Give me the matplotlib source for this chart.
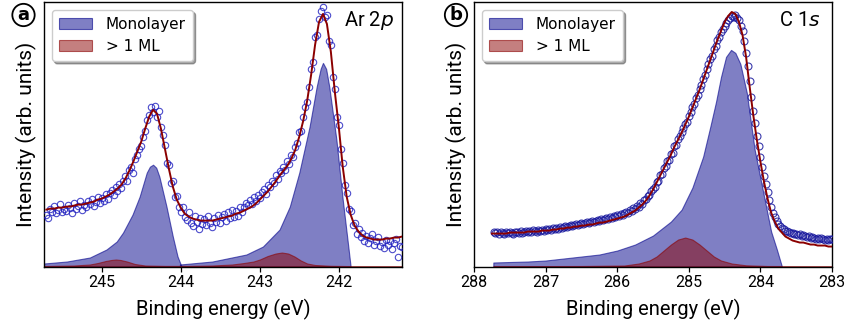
import numpy as np
import matplotlib
matplotlib.use("Agg")
import matplotlib.pyplot as plt

# ---------------- data (heights in arbitrary units) -------------
# Panel a: Ar 2p
A_DATA_START, A_DATA_STEP = 245.70, 0.025
A_DATA = [52, 49, 58, 55, 61, 54, 57, 63, 55, 58,
          56, 62, 59, 54, 64, 58, 61, 66, 57, 62,
          60, 66, 63, 68, 61, 65, 70, 64, 69, 66,
          73, 68, 74, 77, 72, 80, 76, 83, 79, 86,
          91, 86, 97, 100, 94, 108, 112, 118, 121, 130,
          136, 147, 152, 160, 155, 161, 150, 156, 140, 132,
          122, 104, 102, 84, 86, 70, 71, 60, 55, 60,
          50, 47, 55, 44, 41, 51, 45, 38, 49, 43,
          48, 42, 51, 44, 40, 49, 45, 52, 44, 50,
          53, 46, 55, 49, 57, 50, 56, 51, 60, 55,
          60, 64, 62, 67, 63, 70, 66, 72, 69, 75,
          78, 73, 82, 80, 86, 84, 92, 88, 96, 94,
          100, 97, 106, 103, 112, 110, 120, 124, 135, 136,
          150, 160, 165, 180, 198, 205, 230, 232, 248, 256,
          260, 250, 252, 226, 222, 190, 178, 150, 142, 118,
          104, 82, 74, 58, 56, 42, 44, 33, 38, 30,
          34, 26, 31, 24, 29, 33, 22, 26, 30, 21,
          25, 19, 27, 22, 26, 18, 24, 28, 10, 21,
          20]
A_FIT_START, A_FIT_STEP = 245.70, 0.05
A_FIT = [57, 58, 58, 59, 59, 60, 60, 61, 62, 62,
         63, 64, 65, 67, 68, 70, 72, 75, 78, 82,
         88, 96, 105, 115, 125, 138, 150, 157, 153, 138,
         118, 98, 80, 67, 59, 53, 50, 48, 47, 46,
         46, 46, 46, 47, 48, 49, 50, 51, 53, 54,
         56, 58, 60, 63, 67, 71, 75, 80, 85, 91,
         96, 101, 108, 117, 130, 146, 166, 192, 222, 245,
         253, 243, 215, 175, 140, 100, 70, 52, 41, 35,
         31, 29, 28, 27, 27, 27, 28, 28, 29, 29,
         30]
A_ML1_E = [245.73, 245.44, 245.15, 244.94, 244.81, 244.73, 244.61, 244.52, 244.43,
           244.39, 244.35, 244.31, 244.27, 244.18, 244.10, 244.04, 243.99]
A_ML1 = [3, 5, 9, 17, 25, 34, 52, 70, 94, 100, 102, 99, 90, 60, 30, 10, 0]
A_ML2_E = [244.01, 243.60, 243.17, 242.96, 242.75, 242.62, 242.50, 242.37, 242.28,
           242.23, 242.20, 242.16, 242.12, 242.03, 241.95, 241.89, 241.85]
A_ML2 = [2, 5, 12, 20, 37, 60, 94, 140, 180, 198, 204, 198, 180, 127, 67, 27, 0]
A_MULTI_E = [245.73, 245.35, 245.15, 245.05, 244.95, 244.88, 244.82, 244.76, 244.68,
             244.58, 244.45, 244.2, 243.9, 243.6, 243.35, 243.2, 243.08, 243.0, 242.9,
             242.8, 242.72, 242.64, 242.56, 242.48, 242.40, 242.3, 242.1, 241.85, 241.2]
A_MULTI = [0.5, 1, 2, 3.5, 5.5, 6.5, 7, 6.5, 5, 2.5, 1, 0.6, 0.6, 1, 2, 3.5, 5, 7,
           10.5, 13, 14, 13, 10, 6, 3, 1.5, 0.7, 0.4, 0.3]
A_XTICKS = [245, 244, 243, 242]
A_XLIM = (245.73, 241.20)

# Panel b: C 1s
B_DATA_START, B_DATA_STEP = 287.725, 0.025
B_DATA = [35, 34, 35, 33, 35, 34, 33, 35, 34, 35,
          34, 33, 35, 35, 34, 36, 34, 35, 36, 35,
          36, 35, 37, 36, 35, 37, 36, 37, 36, 38,
          37, 38, 37, 39, 38, 39, 38, 40, 39, 40,
          41, 40, 41, 42, 41, 42, 43, 42, 43, 44,
          43, 44, 45, 44, 45, 46, 45, 46, 47, 46,
          48, 47, 48, 49, 48, 50, 49, 51, 50, 52,
          51, 53, 52, 54, 55, 54, 57, 56, 59, 58,
          61, 60, 64, 63, 67, 68, 71, 72, 76, 78,
          80, 85, 86, 92, 93, 99, 101, 106, 107, 113,
          114, 121, 122, 128, 131, 135, 139, 143, 145, 151,
          155, 160, 163, 169, 172, 178, 182, 188, 192, 198,
          203, 208, 211, 218, 221, 227, 230, 235, 238, 241,
          244, 247, 249, 251, 250, 252, 249, 247, 241, 236,
          226, 214, 201, 186, 170, 156, 144, 131, 121, 110,
          100, 91, 83, 75, 67, 60, 54, 50, 46, 43,
          41, 39, 38, 36, 36, 35, 34, 34, 33, 33,
          32, 33, 31, 32, 31, 30, 31, 29, 30, 29,
          28, 29, 28, 29, 28, 27, 28, 27, 28, 28]
B_FIT_START, B_FIT_STEP = 287.75, 0.05
B_FIT = [33, 33, 33, 33, 33, 34, 34, 34, 34, 34,
         35, 35, 35, 35, 36, 36, 36, 37, 37, 38,
         38, 39, 39, 40, 40, 41, 41, 42, 42, 43,
         44, 44, 45, 46, 47, 48, 49, 50, 52, 54,
         56, 59, 62, 66, 71, 77, 84, 91, 98, 105,
         112, 120, 127, 134, 142, 150, 159, 168, 177, 187,
         197, 207, 217, 227, 236, 245, 251, 255, 253, 245,
         232, 210, 180, 152, 127, 105, 85, 68, 54, 45,
         38, 34, 30, 28, 26, 25, 24, 24, 23, 22,
         22, 21, 21, 21, 20, 20]
B_ML_E = [287.73, 287.50, 287.25, 287.00, 286.75, 286.50, 286.25, 286.00, 285.75,
          285.50, 285.25, 285.10, 284.95, 284.80, 284.70, 284.62, 284.55, 284.48,
          284.41, 284.35, 284.28, 284.19, 284.08, 283.94, 283.85, 283.77, 283.70]
B_ML = [4, 4.5, 5, 6, 8, 10, 12, 16, 22, 31, 45, 57, 79, 110, 140, 165, 190, 210,
        217, 214, 203, 174, 117, 67, 35, 17, 0]
B_MULTI_E = [287.73, 286.5, 285.9, 285.7, 285.55, 285.45, 285.35, 285.25, 285.15,
             285.05, 284.95, 284.85, 284.75, 284.65, 284.55, 284.4, 284.2, 283.9, 283.0]
B_MULTI = [0.3, 0.5, 1, 3, 6, 10, 16, 22, 27, 29, 27, 22, 16, 10, 6, 3, 1.2, 0.5, 0.3]
B_XTICKS = [288, 287, 286, 285, 284, 283]
B_XLIM = (288.0, 283.0)

LEGEND_LABELS = ["Monolayer", "> 1 ML"]
XLABEL = "Binding energy (eV)"
YLABEL = "Intensity (arb. units)"

# ---------------- style ----------------
LABEL_FONT = "Roboto"
BLUE_FACE = (0.0, 0.0, 0.545, 0.5)
BLUE_EDGE = (0.0, 0.0, 0.545, 0.6)
RED_FACE = (0.545, 0.0, 0.0, 0.5)
RED_EDGE = (0.545, 0.0, 0.0, 0.6)
FIT_COLOR = "darkred"


def grid(start, step, n):
    return np.round(start - step * np.arange(n), 4)


fig = plt.figure(figsize=(8.46, 3.27), dpi=100)
W, H = 846.0, 327.0
ax_a = fig.add_axes([44 / W, 60 / H, 358 / W, 265 / H])
ax_b = fig.add_axes([474 / W, 60 / H, 358 / W, 265 / H])


def draw(ax, data_e, data, fit_e, fit, ml_list, multi_e, multi, xticks, xlim, title,
         title_x, letter, letter_x, mcolor, ms):
    first = True
    for me, mv in ml_list:
        ax.fill_between(me, 0, mv, facecolor=BLUE_FACE, edgecolor=BLUE_EDGE, lw=0.8,
                        label=LEGEND_LABELS[0] if first else None, zorder=1)
        first = False
    ax.fill_between(multi_e, 0, multi, facecolor=RED_FACE, edgecolor=RED_EDGE, lw=0.8,
                    label=LEGEND_LABELS[1], zorder=2)
    ax.plot(data_e, data, linestyle="none", marker="o", ms=ms, mfc="none",
            mec=mcolor, mew=0.8, zorder=3)
    ax.plot(fit_e, fit, color=FIT_COLOR, lw=1.4, zorder=4)
    ax.set_xlim(*xlim)
    ax.set_ylim(-0.5, 265)
    ax.set_yticks([])
    ax.set_xticks(xticks)
    ax.set_xticklabels([str(t) for t in xticks], fontfamily=LABEL_FONT, fontsize=11.5)
    ax.tick_params(axis="x", direction="out", length=3.5, width=0.9, pad=2.5)
    for s in ax.spines.values():
        s.set_linewidth(1.0)
    ax.set_xlabel(XLABEL, fontfamily=LABEL_FONT, fontsize=14.5, labelpad=6)
    ax.set_ylabel(YLABEL, fontfamily=LABEL_FONT, fontsize=15, labelpad=5)
    ax.legend(loc="upper left", fontsize=11, shadow=True, fancybox=True,
              handlelength=2.2, handletextpad=0.9, borderpad=0.45,
              labelspacing=0.5, framealpha=1, edgecolor="#cccccc")
    ax.text(title_x, 0.93, title, transform=ax.transAxes, ha="right", va="center",
            fontsize=14.5, fontfamily=LABEL_FONT)
    fig.text(letter_x / W, 1 - 15 / H, letter, ha="center", va="center",
             fontsize=13, fontweight="bold", fontfamily="DejaVu Sans",
             bbox=dict(boxstyle="circle,pad=0.12", facecolor="white",
                       edgecolor="black", lw=1.3))


draw(ax_a, grid(A_DATA_START, A_DATA_STEP, len(A_DATA)), A_DATA,
     grid(A_FIT_START, A_FIT_STEP, len(A_FIT)), A_FIT,
     [(A_ML1_E, A_ML1), (A_ML2_E, A_ML2)], A_MULTI_E, A_MULTI,
     A_XTICKS, A_XLIM, "Ar 2$\\mathit{p}$", 0.978, "a", 23.5,
     (0.12, 0.12, 0.75, 0.8), 4.6)
draw(ax_b, grid(B_DATA_START, B_DATA_STEP, len(B_DATA)), B_DATA,
     grid(B_FIT_START, B_FIT_STEP, len(B_FIT)), B_FIT,
     [(B_ML_E, B_ML)], B_MULTI_E, B_MULTI,
     B_XTICKS, B_XLIM, "C 1$\\mathit{s}$", 0.968, "b", 456,
     (0.1, 0.1, 0.62, 0.85), 5.0)

fig.savefig("out.png", dpi=100)
